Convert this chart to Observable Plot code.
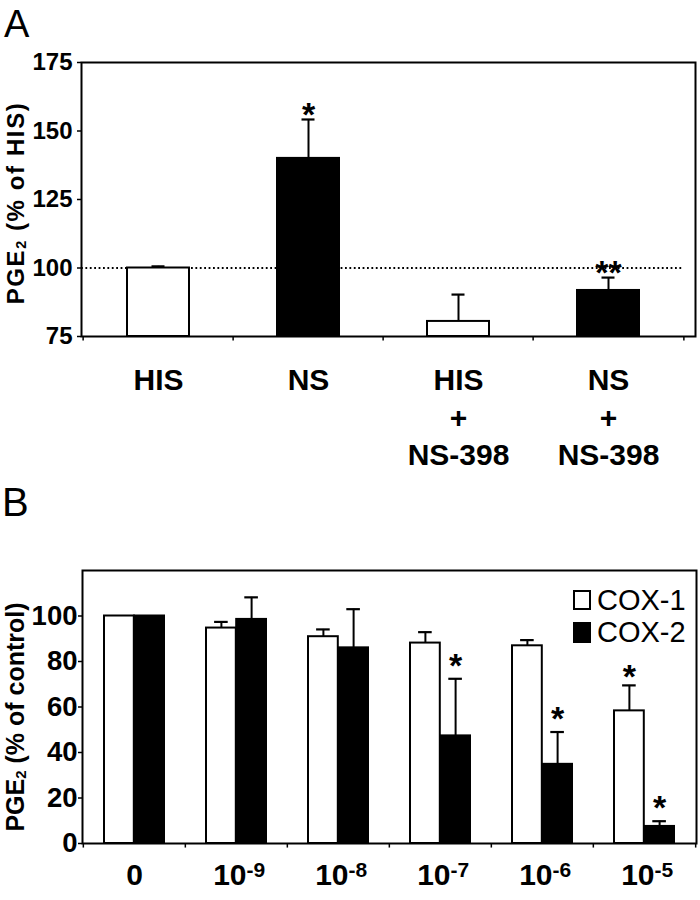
<!DOCTYPE html>
<html><head><meta charset="utf-8">
<script src="https://cdn.jsdelivr.net/npm/d3@7"></script>
<script src="https://cdn.jsdelivr.net/npm/@observablehq/plot@0.6"></script>
<style>
body{margin:0;background:#fff;}
#wrap{position:relative;width:700px;height:900px;font-family:"Liberation Sans",Arial,sans-serif;color:#000;}
.panel{position:absolute;left:0;}
.letter{position:absolute;line-height:1;font-weight:normal;}
.ylab{position:absolute;font-weight:bold;white-space:nowrap;line-height:1.2;transform:translate(-50%,-50%) rotate(-90deg);}
.ylab sub{font-size:0.6em;vertical-align:-0.15em;}
.lgbox{position:absolute;width:14px;border:2px solid #000;}
.lgtext{position:absolute;font-size:29px;line-height:1;}
</style></head>
<body>
<div id="wrap">
  <div class="letter" style="left:4px;top:5px;font-size:38px;">A</div>
  <div class="letter" style="left:2px;top:482px;font-size:40px;">B</div>
  <div id="pa" class="panel" style="top:0;"></div>
  <div id="pb" class="panel" style="top:470px;"></div>
  <div class="ylab" style="left:16px;top:203px;font-size:24px;letter-spacing:1.6px;">PGE<sub>2</sub> (% of HIS)</div>
  <div class="ylab" style="left:15px;top:717px;font-size:25px;">PGE<sub>2</sub> (% of control)</div>
  <div class="lgbox" style="left:573px;top:590px;height:16px;background:#fff;"></div>
  <div class="lgtext" style="left:597px;top:586px;">COX-1</div>
  <div class="lgbox" style="left:573px;top:622px;height:17px;background:#000;"></div>
  <div class="lgtext" style="left:597px;top:618px;">COX-2</div>
</div>
<script>
// ---------- Panel A data ----------
const groupsA = ["HIS", "NS", "HIS\n+\nNS-398", "NS\n+\nNS-398"];
const treatA = ["HIS", "NS", "HIS", "NS"];
const valuesA = [100, 140, 80.5, 91.8];
const semA = [0.6, 14.2, 9.8, 4.7];
const starsA = ["", "*", "", "**"];
const yTicksA = [75, 100, 125, 150, 175];
const refLineA = [100];

// ---------- Panel B data ----------
const doses = ["0", "10-9", "10-8", "10-7", "10-6", "10-5"];
const doseBase = ["0", "10", "10", "10", "10", "10"];
const doseExp = ["", "-9", "-8", "-7", "-6", "-5"];
const seriesB = ["COX-1", "COX-2"];
const cox1 = [100, 94.7, 90.9, 88.1, 86.9, 58.3];
const cox1Sem = [0, 2.7, 3.2, 4.8, 2.5, 11.2];
const cox2 = [100, 98.5, 86.0, 47.3, 34.8, 7.5];
const cox2Sem = [0, 9.7, 17.0, 25.1, 14.2, 2.3];
const cox1Stars = ["", "", "", "", "", "*"];
const cox2Stars = ["", "", "", "*", "*", "*"];
const yTicksB = [0, 20, 40, 60, 80, 100];

const font = '"Liberation Sans", Arial, sans-serif';

// ---------- Panel A ----------
const dataA = groupsA.map((g, i) => ({group: g, treat: treatA[i], value: valuesA[i], top: valuesA[i] + semA[i], star: starsA[i]}));
const WA = 700, mlA = 81, mrA = 5;
const xRangeA = [81, 684];
const stepA = (xRangeA[1] - xRangeA[0]) / groupsA.length;
const bwA = 62, capA = 13, insA = (bwA - capA) / 2;
const innerA = WA - mlA - mrA;

const plotA = Plot.plot({
  width: WA, height: 470,
  marginLeft: mlA, marginRight: mrA, marginTop: 62, marginBottom: 134,
  style: {fontFamily: font, fontWeight: "bold", fontSize: "22px", background: "transparent", color: "#000", overflow: "visible"},
  x: {domain: groupsA, range: xRangeA, paddingInner: 1 - bwA / stepA, paddingOuter: (1 - bwA / stepA) / 2, axis: null},
  y: {domain: [75, 175], axis: null},
  color: {domain: ["HIS", "NS"], range: ["#fff", "#000"]},
  marks: [
    Plot.ruleY(refLineA, {stroke: "#000", strokeWidth: 1.8, strokeDasharray: "1.8,2.6", insetRight: 12}),
    Plot.barY(dataA, {x: "group", y1: 75, y2: "value", fill: "treat", stroke: "#000", strokeWidth: 2}),
    Plot.ruleX(dataA, {x: "group", y1: "value", y2: "top", stroke: "#000", strokeWidth: 2}),
    Plot.tickY(dataA, {x: "group", y: "top", stroke: "#000", strokeWidth: 2.2, insetLeft: insA, insetRight: insA}),
    Plot.text(dataA, {x: "group", y: "top", text: "star", fontSize: 34, dy: -4}),
    Plot.text(dataA, {x: "group", text: "group", frameAnchor: "bottom", lineAnchor: "top", dy: 27, fontSize: 30, lineHeight: 1.25}),
    // y axis: ticks and labels
    Plot.tickY(yTicksA, {y: d => d, insetLeft: -4, insetRight: innerA, stroke: "#000", strokeWidth: 1.5}),
    Plot.text(yTicksA, {y: d => d, text: d => String(d), frameAnchor: "left", textAnchor: "end", dx: -9, fontSize: 24}),
    // category boundary ticks
    Plot.ruleX(groupsA, {x: d => d, dx: -stepA / 2, y1: 75, y2: 73.4, stroke: "#000", strokeWidth: 1.5}),
    Plot.ruleX(groupsA.slice(-1), {x: d => d, dx: stepA / 2, y1: 75, y2: 73.4, stroke: "#000", strokeWidth: 1.5}),
    Plot.frame({stroke: "#000", strokeWidth: 2})
  ]
});
document.getElementById("pa").appendChild(plotA);

// ---------- Panel B ----------
const dataB = [];
doses.forEach((d, i) => {
  dataB.push({dose: d, series: seriesB[0], value: cox1[i], sem: cox1Sem[i], top: cox1[i] + cox1Sem[i], star: cox1Stars[i]});
  dataB.push({dose: d, series: seriesB[1], value: cox2[i], sem: cox2Sem[i], top: cox2[i] + cox2Sem[i], star: cox2Stars[i]});
});
const b1 = dataB.filter(d => d.series === seriesB[0]);
const b2 = dataB.filter(d => d.series === seriesB[1]);
const e1 = b1.filter(d => d.sem > 0), e2 = b2.filter(d => d.sem > 0);
const WB = 700, mlB = 82, mrB = 4;
const xRangeB = [82, 696];
const stepB = (xRangeB[1] - xRangeB[0]) / doses.length;
const bwB = 60.4, half = bwB / 2, capB = 14;
const innerB = WB - mlB - mrB;
const labelsB = doses.map((d, i) => ({dose: d, base: doseBase[i], exp: doseExp[i]}));

const plotB = Plot.plot({
  width: WB, height: 430,
  marginLeft: mlB, marginRight: mrB, marginTop: 100, marginBottom: 57,
  style: {fontFamily: font, fontWeight: "bold", fontSize: "27px", background: "transparent", color: "#000", overflow: "visible"},
  x: {domain: doses, range: xRangeB, paddingInner: 1 - bwB / stepB, paddingOuter: (1 - bwB / stepB) / 2, axis: null},
  y: {domain: [0, 120], axis: null},
  marks: [
    Plot.barY(b1, {x: "dose", y: "value", fill: "#fff", stroke: "#000", strokeWidth: 2, insetRight: half}),
    Plot.barY(b2, {x: "dose", y: "value", fill: "#000", stroke: "#000", strokeWidth: 2, insetLeft: half}),
    Plot.ruleX(e1, {x: "dose", y1: "value", y2: "top", dx: -half / 2, stroke: "#000", strokeWidth: 2}),
    Plot.ruleX(e2, {x: "dose", y1: "value", y2: "top", dx: half / 2, stroke: "#000", strokeWidth: 2}),
    Plot.tickY(e1, {x: "dose", y: "top", stroke: "#000", strokeWidth: 2.2, insetLeft: half / 2 - capB / 2, insetRight: bwB - half / 2 - capB / 2}),
    Plot.tickY(e2, {x: "dose", y: "top", stroke: "#000", strokeWidth: 2.2, insetLeft: bwB - half / 2 - capB / 2, insetRight: half / 2 - capB / 2}),
    Plot.text(b1, {x: "dose", y: "top", text: "star", dx: -half / 2, dy: -8, fontSize: 34}),
    Plot.text(b2, {x: "dose", y: "top", text: "star", dx: half / 2, dy: -13, fontSize: 34}),
    // y axis: ticks and labels
    Plot.tickY(yTicksB, {y: d => d, insetLeft: -4, insetRight: innerB, stroke: "#000", strokeWidth: 1.5}),
    Plot.text(yTicksB, {y: d => d, text: d => String(d), frameAnchor: "left", textAnchor: "end", dx: -5, fontSize: 27.5}),
    // x labels
    Plot.text(labelsB.filter(d => d.exp === ""), {x: "dose", text: "base", frameAnchor: "bottom", dy: 41, fontSize: 30}),
    Plot.text(labelsB.filter(d => d.exp !== ""), {x: "dose", text: "base", frameAnchor: "bottom", dy: 41, dx: 10, textAnchor: "end", fontSize: 30}),
    Plot.text(labelsB.filter(d => d.exp !== ""), {x: "dose", text: "exp", frameAnchor: "bottom", dy: 33, dx: 10, textAnchor: "start", fontSize: 21}),
    // category boundary ticks
    Plot.ruleX(doses, {x: d => d, dx: -stepB / 2, y1: 0, y2: -2, stroke: "#000", strokeWidth: 1.5}),
    Plot.ruleX(doses.slice(-1), {x: d => d, dx: stepB / 2, y1: 0, y2: -2, stroke: "#000", strokeWidth: 1.5}),
    Plot.frame({stroke: "#000", strokeWidth: 2})
  ]
});
document.getElementById("pb").appendChild(plotB);
</script>
</body></html>
